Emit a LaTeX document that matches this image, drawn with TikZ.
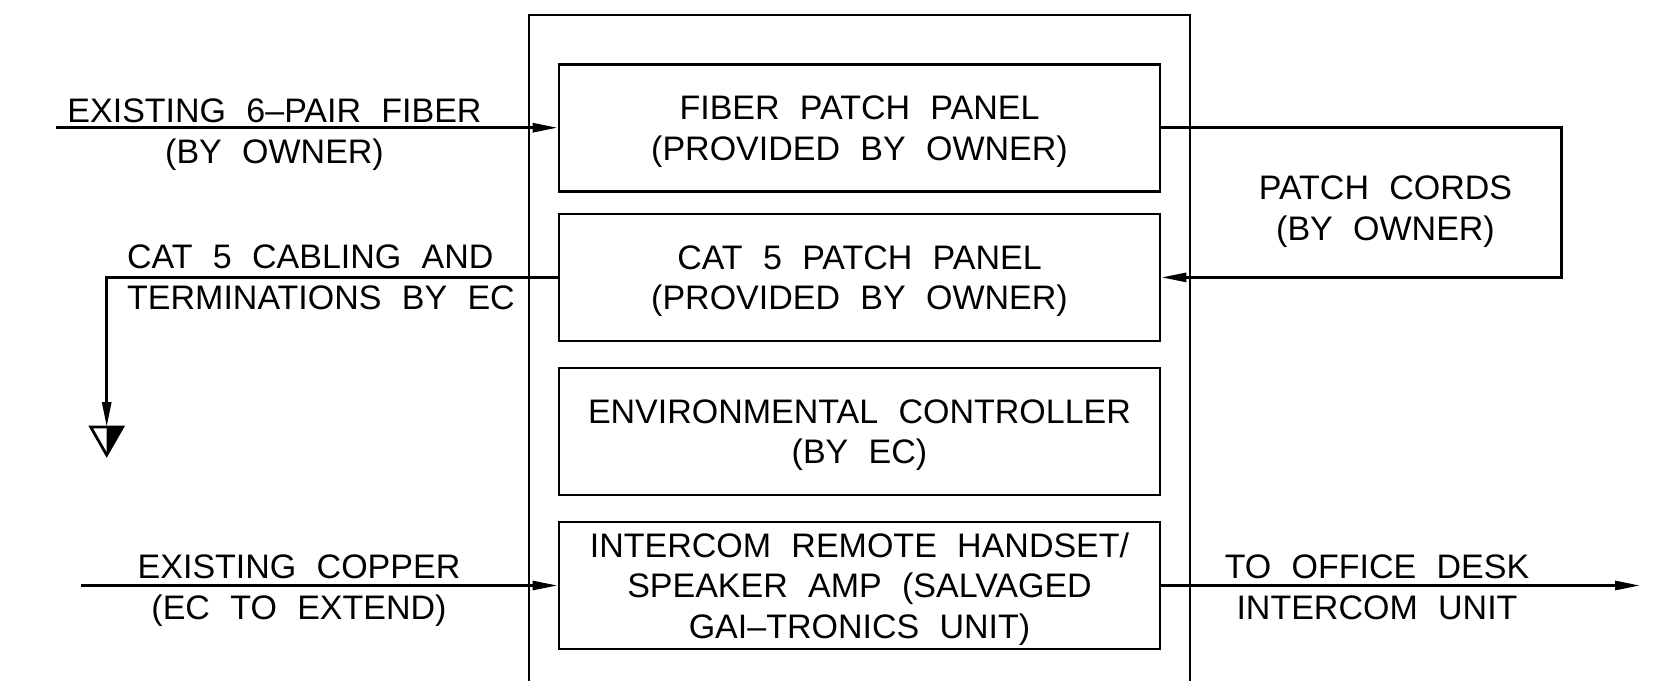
\documentclass[tikz,border=0pt]{standalone}
\usepackage{fontspec}
\setmainfont{Liberation Sans}[WordSpace=2.15]
\usetikzlibrary{arrows.meta}
\newcommand{\ms}{\rule[-8pt]{0pt}{40.3pt}}
\tikzset{
  wire/.style={line width=2.8pt},
  arr/.style={wire,-{Triangle[length=25pt,width=9pt]}},
  panel/.style={draw,line width=2.8pt,minimum width=601pt,minimum height=127pt,inner sep=0pt,align=center,font=\fontsize{34}{40.5}\selectfont},
  lbl/.style={inner sep=0pt,align=center,font=\fontsize{34}{40.5}\selectfont},
}
\begin{document}
\begin{tikzpicture}[x=1pt,y=-1pt]
\useasboundingbox (0,0) rectangle (1654,680);
\clip (0,0) rectangle (1654,680);
% cabinet
\draw[wire] (529,700) -- (529,15) -- (1190,15) -- (1190,700);
% panels
\node[panel] (fiber) at (859.5,127.7) {\ms FIBER PATCH PANEL\\\ms (PROVIDED BY OWNER)};
\node[panel] (cat) at (859.5,277.4) {\ms CAT 5 PATCH PANEL\\\ms (PROVIDED BY OWNER)};
\node[panel] (env) at (859.5,431.5) {\ms ENVIRONMENTAL CONTROLLER\\\ms (BY EC)};
\node[panel] (icom) at (859.5,585.5) {\ms INTERCOM REMOTE HANDSET/\\\ms SPEAKER AMP (SALVAGED\\\ms GAI–TRONICS UNIT)};
% free ends
\coordinate (fstart) at (56,127.7);
\coordinate (gnd) at (106.7,427);
\coordinate (cstart) at (81,585.5);
\coordinate (oend) at (1640,585.5);
% connectors
\draw[arr] (fstart) -- (fiber.west);
\draw[arr] (fiber.east) -- ++(400,0) |- (cat.east);
\draw[arr] (cat.west) -| (gnd);
\draw[arr] (cstart) -- (icom.west);
\draw[arr] (icom.east) -- (oend);
% ground-type symbol
\draw[wire] (gnd) ++(-16,0) -- ++(32,0) -- ++(-16,28) -- cycle;
\fill (gnd) -- ++(16,0) -- ++(-16,28) -- cycle;
% labels
\node[lbl] (fiberlbl) at (274.5,131) {\ms EXISTING 6–PAIR FIBER\\\ms (BY OWNER)};
\node[lbl,align=left,anchor=west] (catlbl) at (127,277) {\ms CAT 5 CABLING AND\\\ms TERMINATIONS BY EC};
\node[lbl] (copperlbl) at (299,587) {\ms EXISTING COPPER\\\ms (EC TO EXTEND)};
\node[lbl] (officelbl) at (1377,587) {\ms TO OFFICE DESK\\\ms INTERCOM UNIT};
\node[lbl] (patchlbl) at (1385.5,208) {\ms PATCH CORDS\\\ms (BY OWNER)};
\end{tikzpicture}
\end{document}
